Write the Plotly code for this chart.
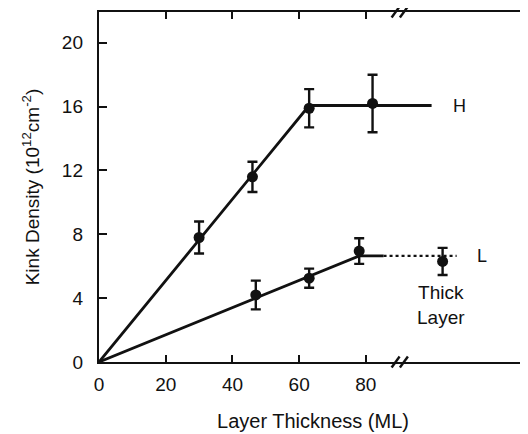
import plotly.graph_objects as go

# ---- data ----
h_x = [30, 46, 63, 82]
h_y = [7.8, 11.6, 15.9, 16.2]
h_err = [1.0, 0.95, 1.2, 1.8]

l_x = [47, 63, 78]
l_y = [4.2, 5.25, 6.95]
l_err = [0.9, 0.6, 0.8]

thick_x = [103]
thick_y = [6.3]
thick_err = [0.85]

h_fit_x = [0, 63, 99.7]
h_fit_y = [0, 16.07, 16.07]

l_fit_x = [0, 78, 85.3]
l_fit_y = [0, 6.65, 6.65]
l_dot_x = [85.3, 107.2]
l_dot_y = [6.65, 6.65]

x_ticks = [0, 20, 40, 60, 80]
y_ticks = [0, 4, 8, 12, 16, 20]
x_range = [0, 128.3]
y_range = [0, 21.93]
break_x = 90.2

FONT = "Liberation Sans, Arial, Helvetica, sans-serif"
BLACK = "#111111"

fig = go.Figure()

fig.add_trace(go.Scatter(x=h_fit_x, y=h_fit_y, mode="lines",
                         line=dict(color=BLACK, width=2.8), showlegend=False))
fig.add_trace(go.Scatter(x=l_fit_x, y=l_fit_y, mode="lines",
                         line=dict(color=BLACK, width=2.8), showlegend=False))
fig.add_trace(go.Scatter(x=l_dot_x, y=l_dot_y, mode="lines",
                         line=dict(color=BLACK, width=2.2, dash="dot"), showlegend=False))

err_style = dict(type="data", color=BLACK, thickness=2.4, width=5)
for xs, ys, es in [(h_x, h_y, h_err), (l_x, l_y, l_err), (thick_x, thick_y, thick_err)]:
    fig.add_trace(go.Scatter(x=xs, y=ys, mode="markers",
                             marker=dict(color=BLACK, size=11),
                             error_y=dict(array=es, **err_style),
                             showlegend=False))

# invisible trace on right-side y axis for mirrored inward ticks
fig.add_trace(go.Scatter(x=[None], y=[None], yaxis="y2", showlegend=False))

# labels
fig.add_annotation(x=108, y=16.05, text="H", showarrow=False,
                   font=dict(family=FONT, size=18, color=BLACK))
fig.add_annotation(x=114.7, y=6.65, text="L", showarrow=False,
                   font=dict(family=FONT, size=18, color=BLACK))
fig.add_annotation(x=102.5, y=3.6, text="Thick<br>Layer", showarrow=False,
                   font=dict(family=FONT, size=19, color=BLACK), align="center")

# axis break marks (top and bottom)
for yanchor in [0, 1]:
    for dx in [-4.3, 4.0]:
        fig.add_shape(type="line", xref="x", yref="paper",
                      xsizemode="pixel", xanchor=break_x,
                      ysizemode="pixel", yanchor=yanchor,
                      x0=dx - 4, x1=dx + 4, y0=-5.5, y1=5.5,
                      line=dict(color=BLACK, width=2.4))

# page body has an 8px default margin: figure sized so it fits the window
fig.update_layout(
    width=520, height=426,
    margin=dict(l=91, r=1, t=4, b=72),
    paper_bgcolor="white", plot_bgcolor="white",
    font=dict(family=FONT, size=19, color=BLACK),
    xaxis=dict(range=x_range, tickvals=x_ticks, ticks="inside", ticklen=7,
               tickwidth=2.2, tickcolor=BLACK, showline=True, linewidth=2.4,
               linecolor=BLACK, mirror="ticks", showgrid=False, zeroline=False,
               tickfont=dict(size=19), ticklabelstandoff=4,
               title=dict(text="Layer Thickness (ML)", font=dict(size=20), standoff=20)),
    yaxis=dict(range=y_range, tickvals=y_ticks, ticks="inside", ticklen=8,
               tickwidth=2.2, tickcolor=BLACK, showline=True, linewidth=2.4,
               linecolor=BLACK, showgrid=False, zeroline=False,
               tickfont=dict(size=19), ticklabelstandoff=10,
               title=dict(text="Kink Density (10<sup>12</sup>cm<sup>-2</sup>)",
                          font=dict(size=19), standoff=17)),
    yaxis2=dict(range=y_range, tickvals=y_ticks, overlaying="y", side="right",
                ticks="inside", ticklen=7, tickwidth=2.2, tickcolor=BLACK,
                showline=False, showticklabels=False, showgrid=False, zeroline=False),
)

fig.write_html("out.html")
